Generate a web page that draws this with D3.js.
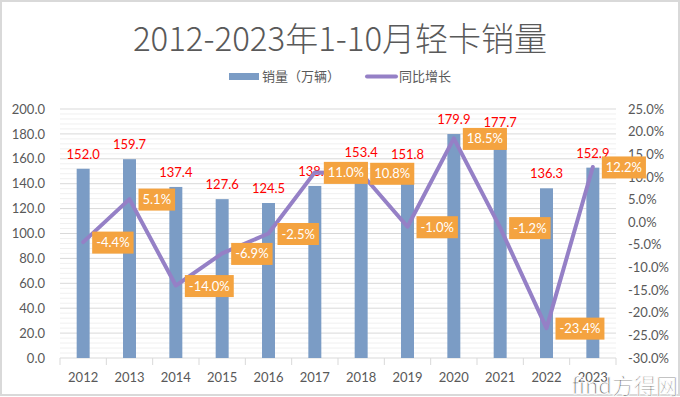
<!DOCTYPE html>
<html>
<head>
<meta charset="utf-8">
<script src="https://cdn.jsdelivr.net/npm/d3@7"></script>
<style>
    body { margin: 0; background: #fff; }
    #chart { width: 680px; height: 397px; }
    text { font-family: Lato, "Noto Sans CJK SC", sans-serif; }
</style>
</head>
<body>
<div id="chart"></div>
<script>
var years = ["2012", "2013", "2014", "2015", "2016", "2017", "2018", "2019", "2020", "2021", "2022", "2023"];
var sales = [152.0, 159.7, 137.4, 127.6, 124.5, 138.2, 153.4, 151.8, 179.9, 177.7, 136.3, 152.9];
var growth = [-4.4, 5.1, -14.0, -6.9, -2.5, 11.0, 10.8, -1.0, 18.5, -1.2, -23.4, 12.2];
var leftTicks = d3.range(0, 201, 20);
var minorTicks = d3.range(0, 201, 4);
var rightTicks = d3.range(-30, 26, 5);

var svg;
var x, yL, yR;
var width = 680;
var height = 397;
var margin = { top: 109, right: 64, bottom: 39, left: 60 };

function drawChart() {
    svg = d3.select("#chart").append("svg")
        .attr("width", width)
        .attr("height", height);

    // outer frame
    svg.append("rect")
        .attr("x", 1).attr("y", 1)
        .attr("width", width - 2).attr("height", height - 3)
        .attr("fill", "#fff")
        .attr("stroke", "#d9d9d9")
        .attr("stroke-width", 2);

    x = d3.scaleBand()
        .domain(years)
        .range([margin.left, width - margin.right])
        .paddingInner(0.72)
        .paddingOuter(0.36);

    yL = d3.scaleLinear().domain([0, 200]).range([height - margin.bottom, margin.top]);
    yR = d3.scaleLinear().domain([-30, 25]).range([height - margin.bottom, margin.top]);

    // grid lines
    svg.append("g").selectAll("line")
        .data(minorTicks.filter(d => d % 20 != 0))
        .join("line")
        .attr("x1", margin.left).attr("x2", width - margin.right)
        .attr("y1", d => yL(d)).attr("y2", d => yL(d))
        .attr("stroke", "#f0f0f0");
    svg.append("g").selectAll("line")
        .data(leftTicks.slice(1))
        .join("line")
        .attr("x1", margin.left).attr("x2", width - margin.right)
        .attr("y1", d => yL(d)).attr("y2", d => yL(d))
        .attr("stroke", "#d9d9d9");

    // axes
    svg.append("g")
        .attr("class", "y-axis")
        .attr("transform", `translate(${margin.left},0)`)
        .call(d3.axisLeft(yL).tickValues(leftTicks).tickFormat(d3.format(".1f")).tickSize(0).tickPadding(15))
        .call(g => g.select(".domain").remove());

    svg.append("g")
        .attr("class", "y-axis")
        .attr("transform", `translate(${width - margin.right},0)`)
        .call(d3.axisRight(yR).tickValues(rightTicks).tickFormat(d => d.toFixed(1) + "%").tickSize(0).tickPadding(12))
        .call(g => g.select(".domain").remove());

    svg.selectAll(".y-axis text")
        .attr("fill", "#595959")
        .style("font-size", "13px")
        .style("font-family", "Lato, sans-serif");

    // x axis with ticks at category edges
    var edges = d3.scaleLinear().domain([0, years.length]).range(x.range());
    var xg = svg.append("g").attr("class", "x-axis");
    xg.append("line")
        .attr("x1", margin.left).attr("x2", width - margin.right)
        .attr("y1", yL(0)).attr("y2", yL(0))
        .attr("stroke", "#d9d9d9");
    xg.selectAll(".edge")
        .data(d3.range(years.length + 1))
        .join("line")
        .attr("class", "edge")
        .attr("x1", d => edges(d)).attr("x2", d => edges(d))
        .attr("y1", yL(0)).attr("y2", yL(0) + 7)
        .attr("stroke", "#d9d9d9");
    xg.selectAll("text")
        .data(years)
        .join("text")
        .attr("x", d => x(d) + x.bandwidth() / 2)
        .attr("y", yL(0) + 24)
        .attr("text-anchor", "middle")
        .attr("fill", "#595959")
        .style("font-size", "13px")
        .text(d => d);

    // bars
    svg.append("g").selectAll("rect")
        .data(sales)
        .join("rect")
        .attr("x", (d, i) => x(years[i]))
        .attr("y", d => yL(d))
        .attr("width", x.bandwidth())
        .attr("height", d => yL(0) - yL(d))
        .attr("fill", "#7b9cc5");

    // bar values
    svg.append("g").selectAll("text")
        .data(sales)
        .join("text")
        .attr("x", (d, i) => x(years[i]) + x.bandwidth() / 2)
        .attr("y", d => yL(d) - 10)
        .attr("text-anchor", "middle")
        .attr("fill", "#ff0000")
        .style("font-size", "13px")
        .text(d => d.toFixed(1));

    // growth line
    var line = d3.line()
        .x((d, i) => x(years[i]) + x.bandwidth() / 2)
        .y(d => yR(d));
    svg.append("path")
        .datum(growth)
        .attr("d", line)
        .attr("fill", "none")
        .attr("stroke", "#9580c6")
        .attr("stroke-width", 4)
        .attr("stroke-linejoin", "round")
        .attr("stroke-linecap", "round");

    // growth labels (orange boxes)
    var lab = svg.append("g").selectAll("g")
        .data(growth)
        .join("g")
        .attr("transform", (d, i) => `translate(${x(years[i]) + x.bandwidth() / 2 + 9},${yR(d)})`);
    lab.append("text")
        .attr("x", 4)
        .attr("y", 5)
        .attr("fill", "#fff")
        .style("font-size", "13px")
        .text(d => d.toFixed(1) + "%");
    lab.each(function() {
        var g = d3.select(this);
        var w = g.select("text").node().getComputedTextLength();
        g.insert("rect", "text")
            .attr("x", 0).attr("y", -10.5)
            .attr("width", w + 8).attr("height", 22)
            .attr("fill", "#f4a340");
    });

    drawTitle();
}

function drawTitle() {
    svg.append("text")
        .attr("x", 340)
        .attr("y", 51)
        .attr("text-anchor", "middle")
        .attr("fill", "#595959")
        .style("font-family", "'Noto Sans CJK SC', sans-serif")
        .style("font-weight", 300)
        .style("font-size", "33px")
        .text("2012-2023年1-10月轻卡销量");

    var lg = svg.append("g").style("font-family", "'Noto Sans CJK SC', sans-serif");
    lg.append("rect")
        .attr("x", 229).attr("y", 73)
        .attr("width", 30).attr("height", 7)
        .attr("fill", "#7b9cc5");
    lg.append("text")
        .attr("x", 262).attr("y", 81)
        .attr("fill", "#595959")
        .style("font-size", "13px")
        .text("销量（万辆）");
    lg.append("line")
        .attr("x1", 367).attr("x2", 396)
        .attr("y1", 76.5).attr("y2", 76.5)
        .attr("stroke", "#9580c6")
        .attr("stroke-width", 4)
        .attr("stroke-linecap", "round");
    lg.append("text")
        .attr("x", 399).attr("y", 81)
        .attr("fill", "#595959")
        .style("font-size", "13px")
        .text("同比增长");

    // watermark
    svg.append("text")
        .attr("x", 678).attr("y", 394)
        .attr("text-anchor", "end")
        .attr("fill", "#555")
        .attr("stroke", "#fff")
        .attr("stroke-width", 1)
        .attr("opacity", 0.85)
        .style("font-size", "22px")
        .style("font-family", "'Noto Sans CJK SC', sans-serif")
        .text("find方得网");
}

document.addEventListener("DOMContentLoaded", () => {
    drawChart();
});
</script>
</body>
</html>
